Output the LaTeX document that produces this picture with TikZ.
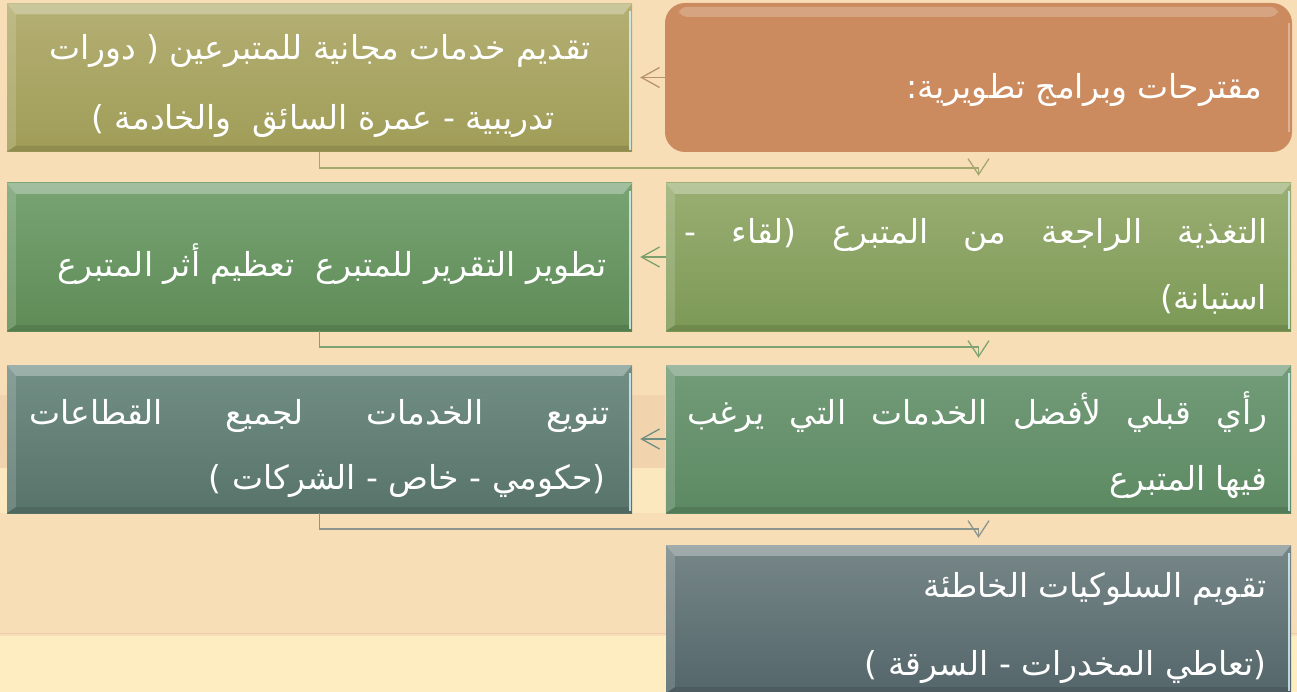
\documentclass[tikz,border=0pt]{standalone}
\usepackage{fontspec}
\usetikzlibrary{arrows.meta}
\TeXXeTstate=1
\newfontfamily\arabicfont[Script=Arabic]{DejaVu Sans}
\newcommand\ar[1]{\beginR #1\endR}
\definecolor{bgmain}{HTML}{F8DEB7}
\definecolor{bglow}{HTML}{FDEDC1}
\definecolor{bgtan}{HTML}{EDCDA8}
\definecolor{bgline}{HTML}{EFCBAE}
\definecolor{orangebox}{HTML}{CC8B5F}
\newcommand\bevel[1]{%
  \fill[white,opacity=.30] (#1.north west) -- (#1.north east) -- ([shift={(-9,11)}]#1.north east) -- ([shift={(9,11)}]#1.north west) -- cycle;
  \fill[white,opacity=.15] (#1.north west) -- ([shift={(9,11)}]#1.north west) -- ([shift={(9,-6)}]#1.south west) -- (#1.south west) -- cycle;
  \fill[black,opacity=.10] (#1.south west) -- ([shift={(9,-6)}]#1.south west) -- ([shift={(-4,-6)}]#1.south east) -- (#1.south east) -- cycle;
  \draw[white!85!cyan,opacity=.8,line width=1.5pt] ([shift={(-2,8)}]#1.north east) -- ([shift={(-2,-2)}]#1.south east);
}
\begin{document}
\begin{tikzpicture}[x=1pt,y=-1pt,
  box/.style={draw=none,inner sep=0pt,minimum width=625pt,minimum height=148pt},
  txt/.style={inner sep=0pt,text=white,font=\arabicfont\fontsize{33}{40}\selectfont},
  harrow/.style={line width=1.3pt,shorten >=8pt,-{Straight Barb[length=18pt,width=20pt,line width=1.3pt]}},
  varrow/.style={line width=1.8pt,shorten >=7pt,-{Straight Barb[length=16pt,width=21pt,line width=1.3pt]}}]
\useasboundingbox (0,0) rectangle (1297,692);
\clip (0,0) rectangle (1297,692);
% background
\fill[bgmain] (0,0) rectangle (1297,692);
\fill[bgtan,opacity=.6] (0,395) rectangle (665,468);
\fill[bglow,opacity=.7] (0,468) rectangle (665,513);
\fill[bglow] (0,636) rectangle (1297,692);
\draw[bgline,line width=1pt] (0,633) -- (1297,633);
% boxes
\node[box,rounded corners=20pt,fill=orangebox,minimum width=627pt,minimum height=149pt] (A) at (978.5,77.5) {};
\fill[white,opacity=.22,rounded corners=8pt] ([shift={(14,4)}]A.north west) rectangle ([shift={(-14,14)}]A.north east);
\draw[white,opacity=.35,line width=1.5pt] ([shift={(-3,20)}]A.north east) -- ([shift={(-3,-20)}]A.south east);
\node[box,top color={rgb,255:red,180;green,175;blue,115},bottom color={rgb,255:red,160;green,157;blue,88}] (B) at (319.5,77.5) {};
\node[box,top color={rgb,255:red,154;green,174;blue,114},bottom color={rgb,255:red,124;green,153;blue,86}] (C) at (978.5,257) {};
\node[box,top color={rgb,255:red,120;green,164;blue,116},bottom color={rgb,255:red,94;green,139;blue,86}] (D) at (319.5,257) {};
\node[box,top color={rgb,255:red,115;green,156;blue,121},bottom color={rgb,255:red,92;green,137;blue,98}] (E) at (978.5,439) {};
\node[box,top color={rgb,255:red,114;green,143;blue,134},bottom color={rgb,255:red,87;green,115;blue,106}] (F) at (319.5,439) {};
\node[box,top color={rgb,255:red,119;green,135;blue,136},bottom color={rgb,255:red,84;green,102;blue,106}] (G) at (978.5,619) {};
\bevel{B}\bevel{C}\bevel{D}\bevel{E}\bevel{F}\bevel{G}
% texts
\node[txt,anchor=base east] (At) at (1262,99) {:\ar{مقترحات وبرامج تطويرية}};
\node[txt,anchor=base] (B1) at (320,60) {\ar{دورات}\ (\ \ar{تقديم خدمات مجانية للمتبرعين}};
\node[txt,anchor=base] (B2) at (323,130) {)\ \ar{تدريبية - عمرة السائق\ \ والخادمة}};
\node[txt,anchor=base west] (C1) at (684,244) {\hbox to 583pt{-\hfill\ar{لقاء}(\hfill\ar{المتبرع}\hfill\ar{من}\hfill\ar{الراجعة}\hfill\ar{التغذية}}};
\node[txt,anchor=base east] (C2) at (1267,309) {)\ar{استبانة}};
\node[txt,anchor=base east] (D1) at (607,277) {\ar{تطوير التقرير للمتبرع\ \ تعظيم أثر المتبرع}};
\node[txt,anchor=base west] (E1) at (687,424) {\hbox to 580pt{\ar{يرغب}\hfill\ar{التي}\hfill\ar{الخدمات}\hfill\ar{لأفضل}\hfill\ar{قبلي}\hfill\ar{رأي}}};
\node[txt,anchor=base east] (E2) at (1267,490) {\ar{فيها المتبرع}};
\node[txt,anchor=base west] (F1) at (29,424) {\hbox to 580pt{\ar{القطاعات}\hfill\ar{لجميع}\hfill\ar{الخدمات}\hfill\ar{تنويع}}};
\node[txt,anchor=base east] (F2) at (606,489) {)\ \ar{حكومي - خاص - الشركات}(};
\node[txt,anchor=base east] (G1) at (1267,597) {\ar{تقويم السلوكيات الخاطئة}};
\node[txt,anchor=base east] (G2) at (1267,675) {)\ \ar{تعاطي المخدرات - السرقة}(};
% connectors
\draw[harrow,draw={rgb,255:red,184;green,147;blue,108}] (A.west) -- (B.east);
\draw[harrow,draw={rgb,255:red,123;green,160;blue,110}] (C.west) -- (D.east);
\draw[harrow,draw={rgb,255:red,110;green,142;blue,128}] (E.west) -- (F.east);
\draw[varrow,draw={rgb,255:red,165;green,168;blue,110}] (B.south) -- ++(0,16) -| (C.north);
\draw[varrow,draw={rgb,255:red,127;green,164;blue,114}] (D.south) -- ++(0,16) -| (E.north);
\draw[varrow,draw={rgb,255:red,140;green,150;blue,143}] (F.south) -- ++(0,16) -| (G.north);
\end{tikzpicture}
\end{document}
